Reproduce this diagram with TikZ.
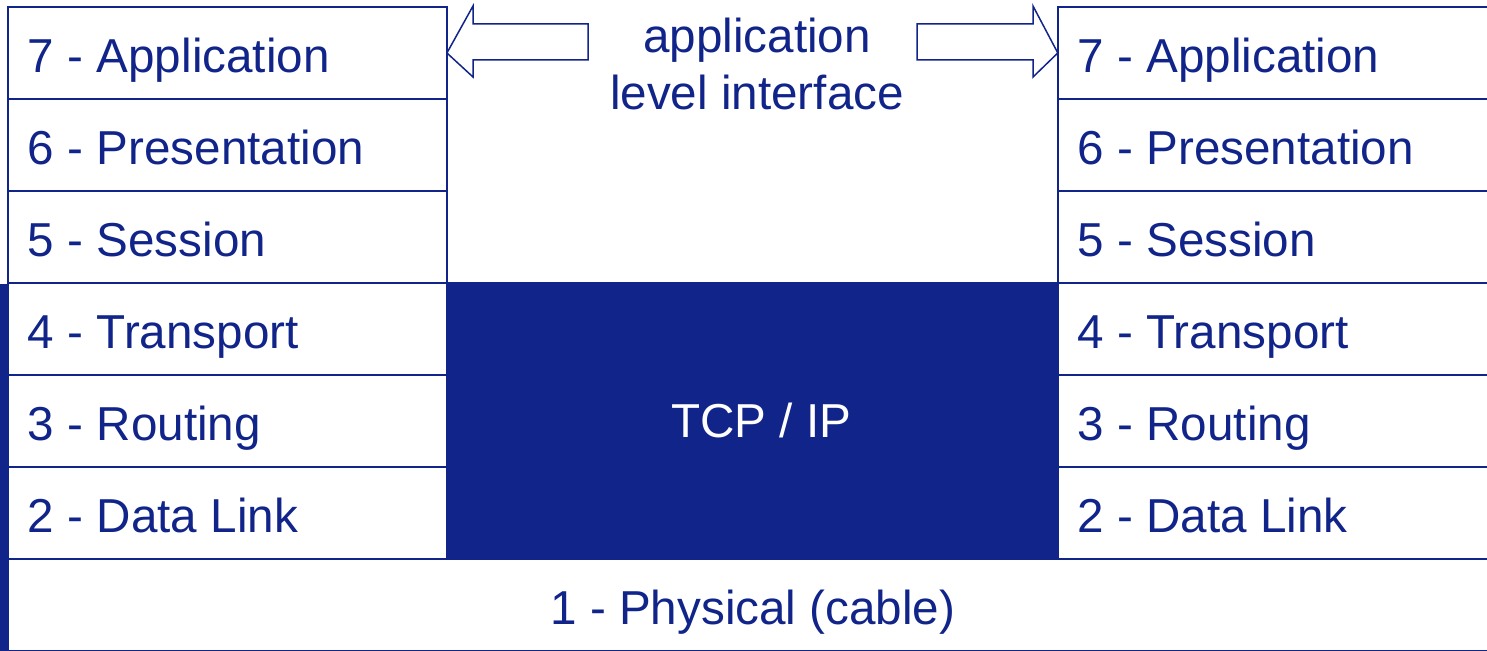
\documentclass[tikz,border=0pt]{standalone}
\usepackage{fontspec}
\setmainfont{Liberation Sans}
\usetikzlibrary{positioning}

\definecolor{osiblue}{RGB}{17,36,137}

\tikzset{
  layer/.style={draw=osiblue, line width=1.1pt, outer sep=0pt, inner ysep=0pt,
    inner xsep=0.4cm, text width=7.98cm, align=flush left, minimum height=1.84cm,
    text height=0.88cm, text depth=0.1cm, text=osiblue,
    font=\fontsize{27.1}{31.9}\selectfont},
  bigarrow/.style={draw=osiblue, line width=0.85pt, line join=miter},
}

\begin{document}
\begin{tikzpicture}[x=0.02cm, y=-0.02cm]
  \useasboundingbox (0,0) rectangle (1487,651);

  % left stack
  \node[layer, anchor=north west] (l7) at (8,7) {7 - Application};
  \node[layer, below=0pt of l7] (l6) {6 - Presentation};
  \node[layer, below=0pt of l6] (l5) {5 - Session};
  \node[layer, below=0pt of l5] (l4) {4 - Transport};
  \node[layer, below=0pt of l4] (l3) {3 - Routing};
  \node[layer, below=0pt of l3] (l2) {2 - Data Link};

  % physical layer
  \node[layer, text width=, align=center, minimum width=29.8cm, anchor=north west]
       (phys) at (l2.south west) {1 - Physical (cable)};

  % tcp/ip block
  \node[draw=osiblue, fill=osiblue, line width=1.1pt, outer sep=0pt,
        minimum width=12.22cm, minimum height=5.52cm, anchor=north west,
        text=white, font=\fontsize{27.1}{31.9}\selectfont]
       (tcp) at (l4.north east) {\hspace*{0.36cm}TCP / IP};

  % right stack
  \node[layer, anchor=north west] (r4) at (tcp.north east) {4 - Transport};
  \node[layer, above=0pt of r4] (r5) {5 - Session};
  \node[layer, above=0pt of r5] (r6) {6 - Presentation};
  \node[layer, above=0pt of r6] (r7) {7 - Application};
  \node[layer, below=0pt of r4] (r3) {3 - Routing};
  \node[layer, below=0pt of r3] (r2) {2 - Data Link};

  % bar on the left
  \fill[osiblue] (0,284) rectangle (9,651);

  % interface label and arrows
  \node[text=osiblue, align=center, font=\fontsize{27.1}{31.9}\selectfont]
       (api) at (757,64) {application\\level interface};
  \draw[bigarrow] (l7.east) -- (473,6) -- (473,24) -- (588,24) -- (588,60)
                  -- (473,60) -- (473,77) -- cycle;
  \draw[bigarrow] (r7.west) -- (1033,6) -- (1033,24) -- (917,24) -- (917,60)
                  -- (1033,60) -- (1033,77) -- cycle;
\end{tikzpicture}
\end{document}
